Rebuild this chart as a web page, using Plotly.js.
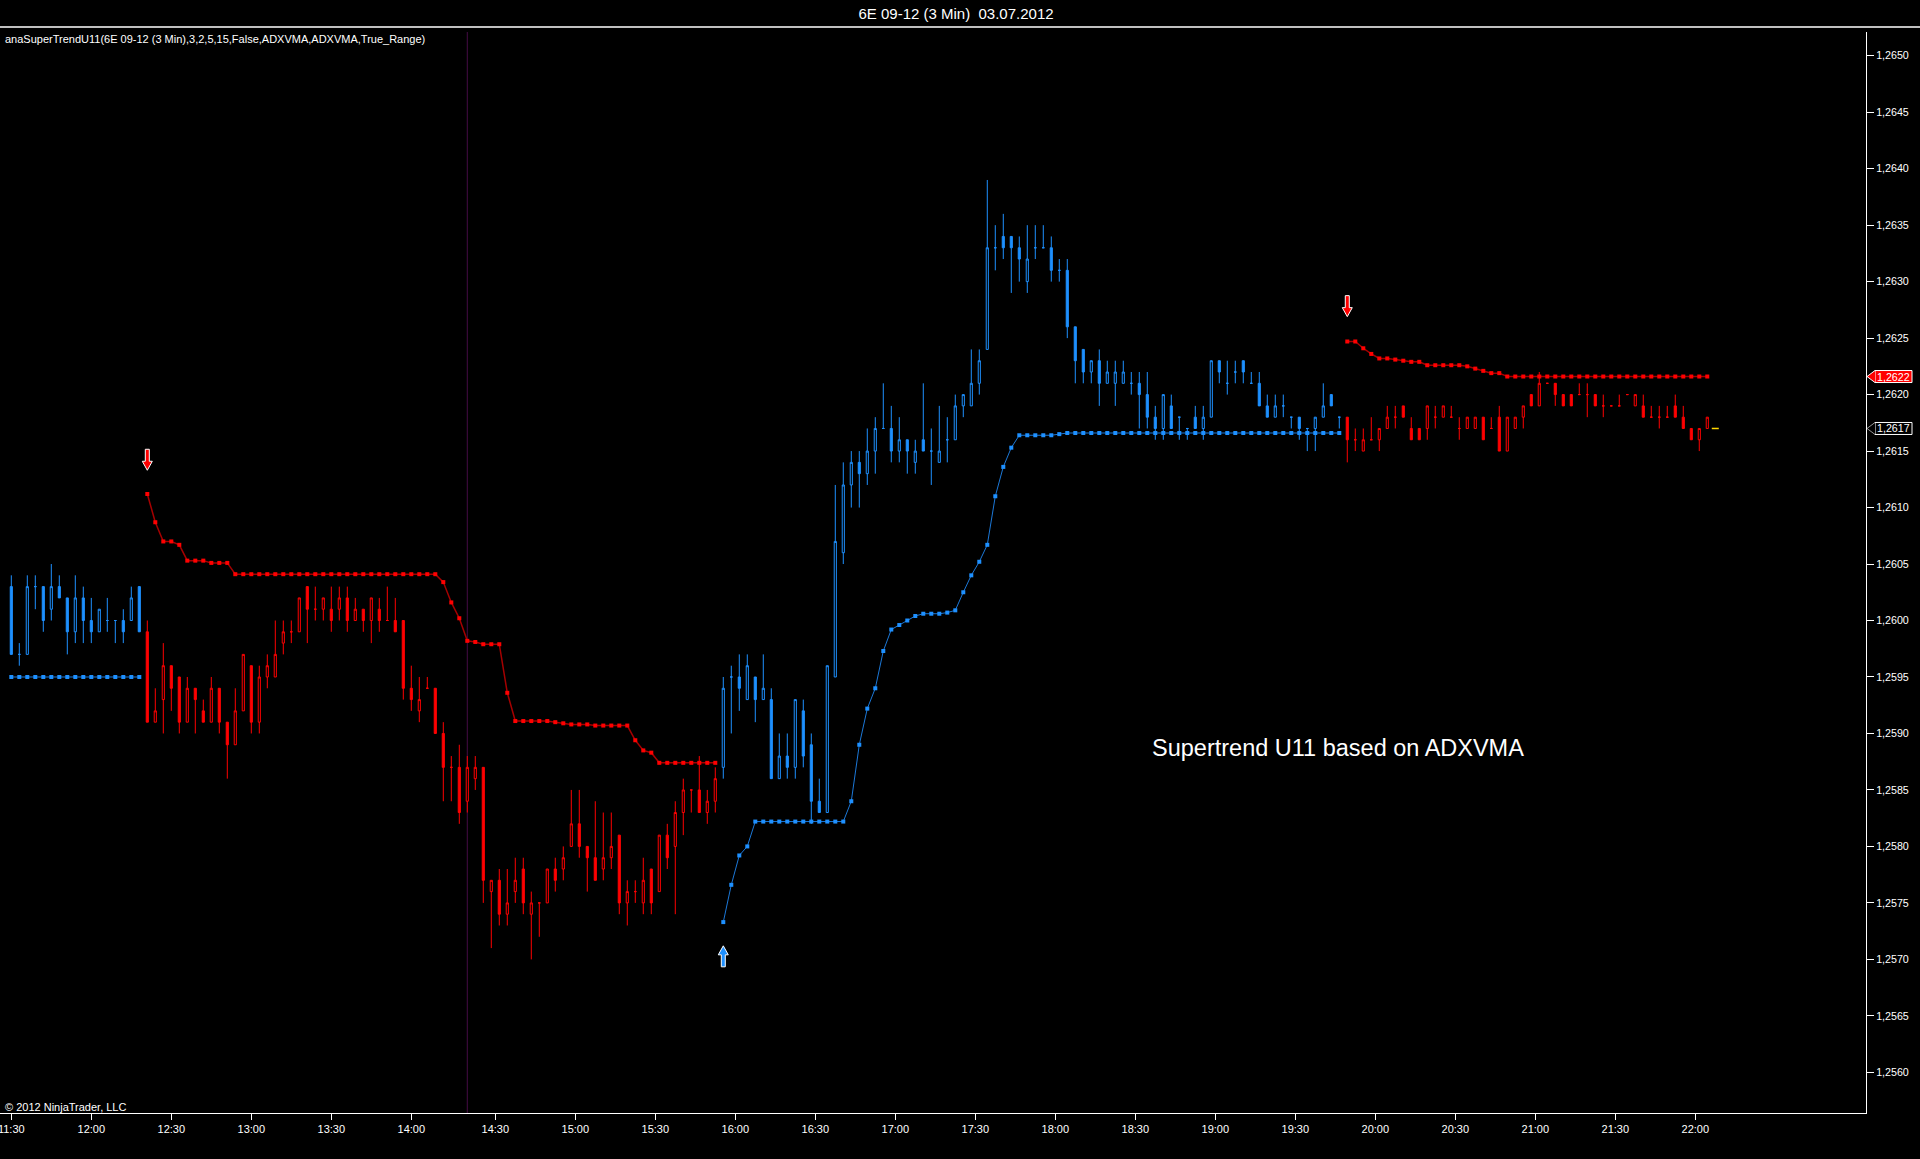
<!DOCTYPE html>
<html>
<head>
<meta charset="utf-8">
<title>6E 09-12 (3 Min) 03.07.2012</title>
<script src="https://cdn.plot.ly/plotly-3.0.1.min.js"></script>
<style>
  html, body { margin: 0; padding: 0; background: #000; }
  #chart { width: 1920px; height: 1159px; }
</style>
</head>
<body>
<div id="chart"></div>
<script>
// ── Data: 6E 09-12, 3 min bars, 03.07.2012 (bar 1 = 11:30) ──

const barOpen = [
  1.2603,1.2597,1.2597,1.2603,1.2603,1.2601,1.2603,1.2602,1.2599,1.2602,
  1.2600,1.2599,1.2600,1.2600,1.2600,1.2600,1.2603,1.2599,1.2591,1.2593,
  1.2596,1.2595,1.2591,1.2594,1.2592,1.2591,1.2594,1.2591,1.2589,1.2592,
  1.2596,1.2591,1.2595,1.2595,1.2598,1.2599,1.2599,1.2603,1.2601,1.2601,
  1.2601,1.2601,1.2602,1.2600,1.2601,1.2600,1.2601,1.2600,1.2600,1.2600,
  1.2594,1.2592,1.2594,1.2594,1.2590,1.2587,1.2587,1.2584,1.2586,1.2587,
  1.2576,1.2577,1.2574,1.2576,1.2578,1.2574,1.2575,1.2575,1.2578,1.2578,
  1.2580,1.2582,1.2580,1.2579,1.2578,1.2579,1.2581,1.2575,1.2576,1.2575,
  1.2578,1.2576,1.2581,1.2580,1.2583,1.2585,1.2585,1.2583,1.2584,1.2587,
  1.2595,1.2595,1.2593,1.2595,1.2593,1.2593,1.2586,1.2588,1.2587,1.2592,
  1.2589,1.2584,1.2583,1.2595,1.2606,1.2612,1.2614,1.2613,1.2615,1.2617,
  1.2617,1.2615,1.2616,1.2614,1.2616,1.2615,1.2614,1.2616,1.2616,1.2619,
  1.2619,1.2621,1.2624,1.2633,1.2634,1.2634,1.2633,1.2630,1.2633,1.2633,
  1.2633,1.2631,1.2631,1.2626,1.2624,1.2622,1.2623,1.2621,1.2621,1.2621,
  1.2621,1.2621,1.2620,1.2618,1.2617,1.2619,1.2618,1.2617,1.2618,1.2617,
  1.2618,1.2623,1.2621,1.2622,1.2623,1.2621,1.2621,1.2619,1.2618,1.2619,
  1.2618,1.2618,1.2617,1.2617,1.2618,1.2620,1.2618,1.2618,1.2616,1.2615,
  1.2616,1.2616,1.2617,1.2618,1.2619,1.2617,1.2617,1.2617,1.2618,1.2618,
  1.2618,1.2617,1.2617,1.2617,1.2618,1.2617,1.2618,1.2615,1.2617,1.2618,
  1.2620,1.2619,1.2621,1.2621,1.2620,1.2620,1.2620,1.2620,1.2620,1.2619,
  1.2619,1.2619,1.2620,1.2619,1.2619,1.2618,1.2618,1.2618,1.2619,1.2618,
  1.2617,1.2616,1.2617
];

const barHigh = [
  1.2604,1.2598,1.2604,1.2604,1.2603,1.2605,1.2604,1.2602,1.2604,1.2603,
  1.2602,1.2601,1.2602,1.2600,1.2601,1.2603,1.2603,1.2600,1.2594,1.2598,
  1.2596,1.2595,1.2595,1.2594,1.2593,1.2595,1.2594,1.2591,1.2594,1.2597,
  1.2596,1.2596,1.2597,1.2600,1.2600,1.2600,1.2602,1.2603,1.2603,1.2602,
  1.2603,1.2603,1.2603,1.2602,1.2601,1.2602,1.2602,1.2603,1.2602,1.2600,
  1.2596,1.2595,1.2595,1.2594,1.2591,1.2588,1.2589,1.2588,1.2588,1.2587,
  1.2577,1.2578,1.2578,1.2579,1.2579,1.2576,1.2575,1.2578,1.2579,1.2580,
  1.2585,1.2585,1.2580,1.2584,1.2583,1.2583,1.2581,1.2577,1.2577,1.2579,
  1.2578,1.2581,1.2582,1.2584,1.2586,1.2585,1.2588,1.2585,1.2587,1.2595,
  1.2596,1.2597,1.2597,1.2595,1.2597,1.2594,1.2590,1.2590,1.2593,1.2593,
  1.2590,1.2586,1.2596,1.2612,1.2614,1.2615,1.2615,1.2617,1.2618,1.2621,
  1.2619,1.2618,1.2616,1.2616,1.2621,1.2617,1.2619,1.2618,1.2620,1.2620,
  1.2624,1.2624,1.2639,1.2635,1.2636,1.2634,1.2634,1.2635,1.2635,1.2635,
  1.2634,1.2632,1.2632,1.2626,1.2624,1.2623,1.2624,1.2623,1.2623,1.2623,
  1.2622,1.2622,1.2622,1.2619,1.2620,1.2620,1.2618,1.2617,1.2619,1.2619,
  1.2623,1.2623,1.2623,1.2623,1.2623,1.2622,1.2622,1.2620,1.2620,1.2620,
  1.2618,1.2618,1.2617,1.2618,1.2621,1.2620,1.2618,1.2618,1.2617,1.2617,
  1.2618,1.2617,1.2619,1.2619,1.2619,1.2618,1.2617,1.2619,1.2619,1.2619,
  1.2619,1.2618,1.2618,1.2618,1.2618,1.2618,1.2619,1.2618,1.2618,1.2619,
  1.2620,1.2622,1.2621,1.2621,1.2620,1.2620,1.2621,1.2621,1.2620,1.2620,
  1.2619,1.2620,1.2620,1.2620,1.2620,1.2619,1.2619,1.2619,1.2620,1.2619,
  1.2617,1.2617,1.2618
];

const barLow = [
  1.2597,1.2596,1.2597,1.2601,1.2599,1.2600,1.2602,1.2597,1.2598,1.2598,
  1.2598,1.2599,1.2599,1.2598,1.2598,1.2600,1.2599,1.2591,1.2591,1.2590,
  1.2592,1.2590,1.2591,1.2590,1.2591,1.2591,1.2590,1.2586,1.2589,1.2592,
  1.2590,1.2590,1.2594,1.2595,1.2597,1.2598,1.2599,1.2598,1.2600,1.2600,
  1.2599,1.2600,1.2599,1.2600,1.2599,1.2598,1.2599,1.2600,1.2599,1.2593,
  1.2592,1.2591,1.2594,1.2590,1.2584,1.2584,1.2582,1.2583,1.2585,1.2575,
  1.2571,1.2573,1.2573,1.2575,1.2574,1.2570,1.2572,1.2575,1.2576,1.2577,
  1.2580,1.2579,1.2576,1.2577,1.2577,1.2578,1.2574,1.2573,1.2575,1.2574,
  1.2574,1.2576,1.2578,1.2574,1.2581,1.2583,1.2583,1.2582,1.2583,1.2586,
  1.2590,1.2592,1.2593,1.2591,1.2593,1.2586,1.2586,1.2586,1.2586,1.2587,
  1.2582,1.2583,1.2583,1.2595,1.2605,1.2610,1.2610,1.2612,1.2613,1.2617,
  1.2614,1.2614,1.2613,1.2613,1.2615,1.2612,1.2614,1.2614,1.2616,1.2618,
  1.2619,1.2620,1.2624,1.2631,1.2632,1.2629,1.2630,1.2629,1.2632,1.2633,
  1.2630,1.2630,1.2625,1.2621,1.2621,1.2621,1.2619,1.2621,1.2619,1.2621,
  1.2620,1.2617,1.2617,1.2616,1.2616,1.2617,1.2616,1.2616,1.2617,1.2616,
  1.2618,1.2621,1.2620,1.2621,1.2621,1.2621,1.2619,1.2618,1.2618,1.2618,
  1.2617,1.2616,1.2615,1.2615,1.2618,1.2619,1.2617,1.2614,1.2615,1.2615,
  1.2616,1.2615,1.2617,1.2617,1.2618,1.2616,1.2616,1.2616,1.2617,1.2618,
  1.2618,1.2616,1.2617,1.2617,1.2616,1.2617,1.2615,1.2615,1.2617,1.2617,
  1.2619,1.2619,1.2621,1.2619,1.2619,1.2619,1.2620,1.2618,1.2619,1.2618,
  1.2619,1.2619,1.2620,1.2619,1.2618,1.2618,1.2617,1.2618,1.2618,1.2617,
  1.2616,1.2615,1.2617
];

const barClose = [
  1.2597,1.2597,1.2603,1.2603,1.2600,1.2603,1.2602,1.2599,1.2602,1.2600,
  1.2599,1.2601,1.2600,1.2600,1.2599,1.2602,1.2599,1.2591,1.2592,1.2596,
  1.2594,1.2591,1.2594,1.2593,1.2591,1.2594,1.2591,1.2589,1.2592,1.2597,
  1.2591,1.2595,1.2596,1.2597,1.2599,1.2599,1.2602,1.2601,1.2601,1.2602,
  1.2600,1.2602,1.2600,1.2601,1.2600,1.2602,1.2600,1.2600,1.2599,1.2594,
  1.2593,1.2593,1.2594,1.2590,1.2587,1.2587,1.2583,1.2587,1.2587,1.2577,
  1.2577,1.2574,1.2575,1.2577,1.2575,1.2575,1.2575,1.2578,1.2577,1.2579,
  1.2582,1.2580,1.2579,1.2577,1.2579,1.2580,1.2575,1.2576,1.2576,1.2577,
  1.2575,1.2581,1.2579,1.2583,1.2585,1.2585,1.2583,1.2584,1.2586,1.2594,
  1.2595,1.2594,1.2596,1.2593,1.2594,1.2586,1.2588,1.2587,1.2593,1.2588,
  1.2584,1.2583,1.2596,1.2607,1.2612,1.2614,1.2613,1.2615,1.2617,1.2617,
  1.2615,1.2616,1.2615,1.2615,1.2615,1.2615,1.2615,1.2616,1.2619,1.2620,
  1.2621,1.2623,1.2633,1.2633,1.2633,1.2633,1.2632,1.2632,1.2633,1.2633,
  1.2631,1.2631,1.2626,1.2623,1.2622,1.2623,1.2621,1.2622,1.2622,1.2622,
  1.2621,1.2620,1.2618,1.2617,1.2620,1.2617,1.2618,1.2617,1.2617,1.2618,
  1.2623,1.2622,1.2621,1.2622,1.2622,1.2621,1.2619,1.2618,1.2619,1.2619,
  1.2618,1.2617,1.2617,1.2618,1.2619,1.2619,1.2618,1.2616,1.2616,1.2616,
  1.2616,1.2617,1.2618,1.2618,1.2618,1.2616,1.2616,1.2619,1.2618,1.2619,
  1.2618,1.2617,1.2618,1.2618,1.2616,1.2617,1.2615,1.2618,1.2618,1.2619,
  1.2619,1.2621,1.2621,1.2620,1.2619,1.2619,1.2620,1.2620,1.2619,1.2619,
  1.2619,1.2619,1.2620,1.2620,1.2618,1.2618,1.2618,1.2618,1.2618,1.2617,
  1.2616,1.2617,1.2618
];

// SuperTrend stop line, one value per bar
const stValue = [
  1.2595,1.2595,1.2595,1.2595,1.2595,1.2595,1.2595,1.2595,1.2595,1.2595,
  1.2595,1.2595,1.2595,1.2595,1.2595,1.2595,1.2595,
  1.26112,1.26087,1.2607,1.2607,1.26067,1.26053,1.26053,1.26053,1.26051,1.26051,
  1.26051,1.26041,
  1.26041,1.26041,1.26041,1.26041,1.26041,1.26041,1.26041,1.26041,1.26041,1.26041,
  1.26041,1.26041,1.26041,1.26041,1.26041,1.26041,1.26041,1.26041,1.26041,1.26041,
  1.26041,1.26041,1.26041,1.26041,1.26041,
  1.26034,1.26016,1.26002,1.25982,1.25981,1.25979,1.25979,1.25979,1.25936,
  1.25911,1.25911,1.25911,1.25911,1.25911,1.2591,1.25909,1.25908,1.25908,1.25908,
  1.25907,1.25907,1.25907,1.25907,1.25907,
  1.25894,1.25885,1.25883,1.25874,1.25874,1.25874,1.25874,1.25874,1.25874,1.25874,
  1.25874,
  1.25733,1.25766,1.25792,1.2580,
  1.25822,1.25822,1.25822,1.25822,1.25822,1.25822,1.25822,1.25822,1.25822,1.25822,
  1.25822,1.25822,
  1.2584,1.2589,1.25922,1.2594,
  1.25973,1.25992,1.25996,1.2600,1.26004,1.26006,1.26006,1.26006,1.26007,1.26009,
  1.26025,1.2604,1.26052,1.26067,1.2611,1.26136,1.26153,
  1.26164,1.26164,1.26164,1.26164,1.26164,1.26165,
  1.26166,1.26166,1.26166,1.26166,1.26166,1.26166,1.26166,1.26166,1.26166,1.26166,
  1.26166,1.26166,1.26166,1.26166,1.26166,1.26166,1.26166,1.26166,1.26166,1.26166,
  1.26166,1.26166,1.26166,1.26166,1.26166,1.26166,1.26166,1.26166,1.26166,1.26166,
  1.26166,1.26166,1.26166,1.26166,1.26166,
  1.26247,1.26247,1.26241,1.26236,1.26232,1.26232,1.26231,1.2623,1.26229,1.26229,
  1.26226,1.26226,1.26226,1.26226,1.26226,
  1.26225,1.26223,1.26221,1.26219,1.26219,1.26216,
  1.26216,1.26216,1.26216,1.26216,1.26216,1.26216,1.26216,1.26216,1.26216,1.26216,
  1.26216,1.26216,1.26216,1.26216,1.26216,1.26216,1.26216,1.26216,1.26216,1.26216,
  1.26216,1.26216,1.26216,1.26216,1.26216
];

// trend segments (first bar of each) and their direction
const trendStart = [1, 18, 90, 168];
const trendIsUp = [true, false, true, false];

// trend change signals: bar and arrow tip price
const signalBar = [18, 90, 168];
const signalPrice = [1.26133, 1.25712, 1.26269];

const sessionBreakBar = 58;
const adxvmaBar = 214;
const adxvmaValue = 1.2617;

const tickBar = [1, 11, 21, 31, 41, 51, 61.5, 71.5, 81.5, 91.5, 101.5,
  111.5, 121.5, 131.5, 141.5, 151.5, 161.5, 171.5, 181.5, 191.5, 201.5, 211.5];
const tickLabel = ['11:30', '12:00', '12:30', '13:00', '13:30', '14:00', '14:30',
  '15:00', '15:30', '16:00', '16:30', '17:00', '17:30', '18:00', '18:30', '19:00',
  '19:30', '20:00', '20:30', '21:00', '21:30', '22:00'];

// ── Styles ──

const UP_COLOR = '#1e90ff';
const DOWN_COLOR = '#ff0000';
const FONT = '"Liberation Sans", Arial, sans-serif';
const PLOT_W = 1866;   // plot area width in px
const PLOT_H = 1081;   // plot area height in px

function segmentOf(bar) {
    let k = 0;
    for (let s = 0; s < trendStart.length; s++) {
        if (bar >= trendStart[s]) k = s;
    }
    return k;
}

// ── Traces ──

function candleTrace(isUp) {
    const x = [], o = [], h = [], l = [], c = [];
    for (let i = 0; i < barClose.length; i++) {
        const bar = i + 1;
        if (trendIsUp[segmentOf(bar)] !== isUp) continue;
        x.push(bar);
        o.push(barOpen[i]);
        h.push(barHigh[i]);
        l.push(barLow[i]);
        c.push(barClose[i]);
    }
    const col = isUp ? UP_COLOR : DOWN_COLOR;
    return {
        type: 'candlestick',
        x: x, open: o, high: h, low: l, close: c,
        increasing: { line: { color: col, width: 1 }, fillcolor: '#000000' },
        decreasing: { line: { color: col, width: 1 }, fillcolor: col },
        whiskerwidth: 0,
        showlegend: false,
    };
}

function stopTrace(seg) {
    const from = trendStart[seg];
    const to = seg + 1 < trendStart.length ? trendStart[seg + 1] - 1 : stValue.length;
    const x = [], y = [];
    for (let b = from; b <= to; b++) {
        x.push(b);
        y.push(stValue[b - 1]);
    }
    const up = trendIsUp[seg];
    return {
        type: 'scatter',
        mode: 'lines+markers',
        x: x, y: y,
        line: { color: up ? 'rgb(28,120,215)' : 'rgb(165,0,0)', width: up ? 1 : 1.5 },
        marker: { symbol: 'square', size: 4, color: up ? UP_COLOR : DOWN_COLOR },
        showlegend: false,
    };
}

const traces = [candleTrace(true), candleTrace(false)];
for (let s = 0; s < trendStart.length; s++) traces.push(stopTrace(s));
traces.push({
    type: 'scatter', mode: 'markers',
    x: [adxvmaBar], y: [adxvmaValue],
    marker: { symbol: 'line-ew', size: 5, line: { color: '#ffd700', width: 1.5 } },
    showlegend: false,
});

// ── Shapes & annotations ──

const shapes = [
    // session break
    { type: 'line', xref: 'x', yref: 'paper', x0: sessionBreakBar, x1: sessionBreakBar,
      y0: 0, y1: 1, line: { color: 'rgb(70,12,70)', width: 1 }, layer: 'below' },
    // title bar separator
    { type: 'line', xref: 'paper', yref: 'paper', x0: 0, x1: 1920 / PLOT_W,
      y0: 1 + 5 / PLOT_H, y1: 1 + 5 / PLOT_H, line: { color: '#ffffff', width: 1.5 } },
];

const ARROW_DOWN = 'M-2,21 L2,21 L2,9 L5,9 L0,0 L-5,9 L-2,9 Z';
const ARROW_UP = 'M-2,-21 L2,-21 L2,-9 L5,-9 L0,0 L-5,-9 L-2,-9 Z';

for (let i = 0; i < signalBar.length; i++) {
    const up = trendIsUp[segmentOf(signalBar[i])];
    shapes.push({
        type: 'path', xref: 'x', yref: 'y',
        xsizemode: 'pixel', ysizemode: 'pixel',
        xanchor: signalBar[i], yanchor: signalPrice[i],
        path: up ? ARROW_UP : ARROW_DOWN,
        fillcolor: up ? UP_COLOR : DOWN_COLOR,
        line: { color: '#ffffff', width: 1 },
        layer: 'above',
    });
}

const annotations = [
    { xref: 'paper', yref: 'paper', x: 3 / PLOT_W, y: 1 - 7 / PLOT_H,
      xanchor: 'left', yanchor: 'middle', showarrow: false,
      text: 'anaSuperTrendU11(6E 09-12 (3 Min),3,2,5,15,False,ADXVMA,ADXVMA,True_Range)',
      font: { family: FONT, size: 11, color: '#ffffff' } },
    { xref: 'paper', yref: 'paper', x: 3 / PLOT_W, y: 6 / PLOT_H,
      xanchor: 'left', yanchor: 'middle', showarrow: false,
      text: '© 2012 NinjaTrader, LLC',
      font: { family: FONT, size: 11, color: '#ffffff' } },
    { xref: 'paper', yref: 'paper', x: 1150 / PLOT_W, y: 365 / PLOT_H,
      xanchor: 'left', yanchor: 'middle', showarrow: false,
      text: 'Supertrend U11 based on ADXVMA',
      font: { family: FONT, size: 23.5, color: '#ffffff' } },
];

// price markers on the right axis
function priceLabel(value, fill, edge, tipEdge) {
    shapes.push({
        type: 'path', xref: 'paper', yref: 'y',
        xsizemode: 'pixel', ysizemode: 'pixel',
        xanchor: 1, yanchor: value,
        path: 'M9,6 L46,6 L46,-6 L9,-6 Z',
        fillcolor: fill, line: { color: edge, width: 1 },
    });
    shapes.push({
        type: 'path', xref: 'paper', yref: 'y',
        xsizemode: 'pixel', ysizemode: 'pixel',
        xanchor: 1, yanchor: value,
        path: 'M9,6 L1,0 L9,-6',
        fillcolor: fill, line: { color: tipEdge, width: 1 },
    });
    annotations.push({
        xref: 'paper', yref: 'y', x: 1 + 9 / PLOT_W, y: value,
        xanchor: 'left', yanchor: 'middle', showarrow: false,
        text: value.toFixed(4).replace('.', ','),
        font: { family: FONT, size: 10.7, color: '#ffffff' },
    });
}
priceLabel(stValue[stValue.length - 1], DOWN_COLOR, '#ffffff', '#ffffff');
priceLabel(adxvmaValue, '#000000', '#ffffff', '#999999');

// ── Layout ──

const layout = {
    width: 1920,
    height: 1159,
    paper_bgcolor: '#000000',
    plot_bgcolor: '#000000',
    margin: { l: 0, r: 54, t: 32, b: 46 },
    separators: ', ',
    font: { family: FONT, size: 11, color: '#ffffff' },
    title: {
        text: '6E 09-12 (3 Min)\u00a0 03.07.2012',
        x: 956 / 1920, xanchor: 'center',
        y: 1 - 13.5 / 1159, yanchor: 'middle',
        font: { family: FONT, size: 15, color: '#ffffff' },
    },
    hovermode: false,
    boxgap: 0.62,
    xaxis: {
        type: 'linear',
        range: [-0.4125, 232.84],
        tickmode: 'array',
        tickvals: tickBar,
        ticktext: tickLabel,
        ticklabeloverflow: 'allow',
        ticks: 'outside', ticklen: 6, tickwidth: 1, tickcolor: '#ffffff',
        showline: true, linecolor: '#ffffff', linewidth: 1,
        showgrid: false, zeroline: false,
        rangeslider: { visible: false },
        tickfont: { family: FONT, size: 11, color: '#ffffff' },
    },
    yaxis: {
        side: 'right',
        range: [1.25564, 1.26521],
        tick0: 1.2650, dtick: 0.0005,
        tickformat: '.4f',
        ticks: 'outside', ticklen: 7, tickwidth: 1, tickcolor: '#ffffff',
        showline: true, linecolor: '#ffffff', linewidth: 1,
        showgrid: false, zeroline: false,
        tickfont: { family: FONT, size: 10.7, color: '#ffffff' },
    },
    shapes: shapes,
    annotations: annotations,
};

Plotly.newPlot('chart', traces, layout, { displayModeBar: false, staticPlot: true });
</script>
</body>
</html>
